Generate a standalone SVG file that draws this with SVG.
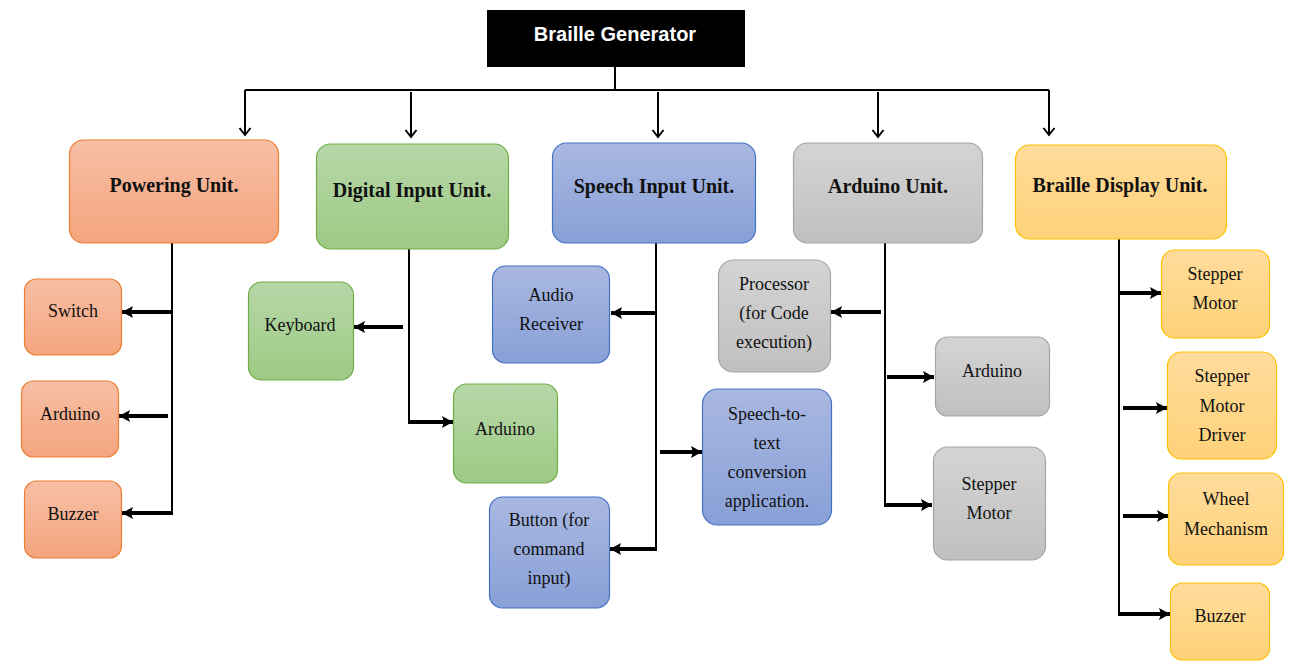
<svg xmlns="http://www.w3.org/2000/svg" width="1301" height="671" viewBox="0 0 1301 671">
<defs>
<linearGradient id="gOr" x1="0" y1="0" x2="0" y2="1"><stop offset="0" stop-color="#F7BFA5"/><stop offset="1" stop-color="#F4A47E"/></linearGradient>
<linearGradient id="gGr" x1="0" y1="0" x2="0" y2="1"><stop offset="0" stop-color="#B6D7A8"/><stop offset="1" stop-color="#9ECA85"/></linearGradient>
<linearGradient id="gBl" x1="0" y1="0" x2="0" y2="1"><stop offset="0" stop-color="#A9B8E1"/><stop offset="1" stop-color="#88A0D7"/></linearGradient>
<linearGradient id="gGy" x1="0" y1="0" x2="0" y2="1"><stop offset="0" stop-color="#D4D4D4"/><stop offset="1" stop-color="#C0C0C0"/></linearGradient>
<linearGradient id="gYe" x1="0" y1="0" x2="0" y2="1"><stop offset="0" stop-color="#FFDC9C"/><stop offset="1" stop-color="#FFD279"/></linearGradient>
<marker id="open" markerUnits="userSpaceOnUse" markerWidth="14" markerHeight="14" refX="10" refY="7" orient="auto">
<path d="M3,1.5 L10,7 L3,12.5" fill="none" stroke="#000" stroke-width="2"/>
</marker>
<marker id="solid" markerUnits="userSpaceOnUse" markerWidth="14" markerHeight="14" refX="11" refY="7" orient="auto">
<path d="M0,1 L11,7 L0,13 L2,7 Z" fill="#000"/>
</marker>
</defs>
<style>
.or{fill:url(#gOr);stroke:#ED7D31;stroke-width:1.2}
.gr{fill:url(#gGr);stroke:#70AD47;stroke-width:1.2}
.bl{fill:url(#gBl);stroke:#4472C4;stroke-width:1.2}
.gy{fill:url(#gGy);stroke:#A5A5A5;stroke-width:1.2}
.ye{fill:url(#gYe);stroke:#FFC000;stroke-width:1.2}
.u{font-family:"Liberation Serif",serif;font-size:20px;font-weight:bold;text-anchor:middle;fill:#111}
.s{font-family:"Liberation Serif",serif;font-size:18px;text-anchor:middle;fill:#111}
.thin{fill:none;stroke:#000;stroke-width:2}
.thick{fill:none;stroke:#000;stroke-width:4;marker-end:url(#solid)}
.trunk{fill:none;stroke:#000;stroke-width:2}
</style>

<g id="title">
<rect x="487" y="10" width="258" height="57" fill="#000"/>
<text x="615" y="41" font-family="Liberation Sans, sans-serif" font-size="20" font-weight="bold" fill="#fff" text-anchor="middle">Braille Generator</text>
</g>

<g id="connectors">
<path class="thin" d="M615,67 V90 M245,90 H1049"/>
<path class="thin" d="M245,90 V135" marker-end="url(#open)"/>
<path class="thin" d="M411,92 V137" marker-end="url(#open)"/>
<path class="thin" d="M658,92 V137" marker-end="url(#open)"/>
<path class="thin" d="M878,92 V137" marker-end="url(#open)"/>
<path class="thin" d="M1049,90 V135" marker-end="url(#open)"/>

<path class="trunk" d="M172,243 V514"/>
<path class="thick" d="M173,312 H122"/>
<path class="thick" d="M168,416 H119"/>
<path class="thick" d="M173,513 H122"/>

<path class="trunk" d="M409,249 V422"/>
<path class="thick" d="M403,327 H354"/>
<path class="thick" d="M408,422 H453"/>

<path class="trunk" d="M656,243 V551"/>
<path class="thick" d="M657,313 H611"/>
<path class="thick" d="M657,549 H610"/>
<path class="thick" d="M660,452 H702"/>

<path class="trunk" d="M885,239 V507"/>
<path class="thick" d="M881,312 H831"/>
<path class="thick" d="M887,377 H934"/>
<path class="thick" d="M884,505 H932"/>

<path class="trunk" d="M1119,239 V616"/>
<path class="thick" d="M1118,293 H1161"/>
<path class="thick" d="M1123,408 H1167"/>
<path class="thick" d="M1123,516 H1168"/>
<path class="thick" d="M1118,614 H1170"/>
</g>

<g id="powering-unit"><rect class="or" x="69.5" y="140" width="209" height="103" rx="14"/><text class="u" x="174" y="192">Powering Unit.</text></g>
<g id="digital-input-unit"><rect class="gr" x="316.5" y="144" width="192" height="105" rx="14"/><text class="u" x="412" y="197">Digital Input Unit.</text></g>
<g id="speech-input-unit"><rect class="bl" x="552.5" y="143" width="203" height="100" rx="14"/><text class="u" x="654" y="193">Speech Input Unit.</text></g>
<g id="arduino-unit"><rect class="gy" x="793.5" y="143" width="189" height="100" rx="14"/><text class="u" x="888" y="193">Arduino Unit.</text></g>
<g id="braille-display-unit"><rect class="ye" x="1015.5" y="145" width="211" height="94" rx="14"/><text class="u" x="1120" y="192">Braille Display Unit.</text></g>

<g id="switch"><rect class="or" x="24.5" y="279" width="97" height="76" rx="12"/><text class="s" x="73" y="317">Switch</text></g>
<g id="arduino-power"><rect class="or" x="21.5" y="381" width="97" height="76" rx="12"/><text class="s" x="70" y="420">Arduino</text></g>
<g id="buzzer-power"><rect class="or" x="24.5" y="481" width="97" height="77" rx="12"/><text class="s" x="73" y="520">Buzzer</text></g>

<g id="keyboard"><rect class="gr" x="248.5" y="282" width="105" height="98" rx="13"/><text class="s" x="300" y="331">Keyboard</text></g>
<g id="arduino-digital"><rect class="gr" x="453.5" y="384" width="104" height="99" rx="13"/><text class="s" x="505" y="435">Arduino</text></g>

<g id="audio-receiver"><rect class="bl" x="492.5" y="266" width="117" height="97" rx="13"/><text class="s" x="551" y="301">Audio</text><text class="s" x="551" y="330">Receiver</text></g>
<g id="button"><rect class="bl" x="489.5" y="497" width="120" height="111" rx="13"/><text class="s" x="549" y="526">Button (for</text><text class="s" x="549" y="555">command</text><text class="s" x="549" y="584">input)</text></g>
<g id="speech-to-text"><rect class="bl" x="702.5" y="389" width="129" height="136" rx="15"/><text class="s" x="767" y="420">Speech-to-</text><text class="s" x="767" y="449">text</text><text class="s" x="767" y="478">conversion</text><text class="s" x="767" y="507">application.</text></g>

<g id="processor"><rect class="gy" x="718.5" y="260" width="112" height="112" rx="15"/><text class="s" x="774" y="290">Processor</text><text class="s" x="774" y="319">(for Code</text><text class="s" x="774" y="348">execution)</text></g>
<g id="arduino-ard"><rect class="gy" x="935.5" y="337" width="114" height="79" rx="12"/><text class="s" x="992" y="377">Arduino</text></g>
<g id="stepper-motor-ard"><rect class="gy" x="933.5" y="447" width="112" height="113" rx="14"/><text class="s" x="989" y="490">Stepper</text><text class="s" x="989" y="519">Motor</text></g>

<g id="stepper-motor-bd"><rect class="ye" x="1161.5" y="250" width="108" height="88" rx="13"/><text class="s" x="1215" y="280">Stepper</text><text class="s" x="1215" y="309">Motor</text></g>
<g id="stepper-driver"><rect class="ye" x="1167.5" y="352" width="109" height="107" rx="14"/><text class="s" x="1222" y="382">Stepper</text><text class="s" x="1222" y="412">Motor</text><text class="s" x="1222" y="441">Driver</text></g>
<g id="wheel-mechanism"><rect class="ye" x="1168.5" y="473" width="115" height="92" rx="13"/><text class="s" x="1226" y="505">Wheel</text><text class="s" x="1226" y="535">Mechanism</text></g>
<g id="buzzer-bd"><rect class="ye" x="1170.5" y="583" width="99" height="77" rx="12"/><text class="s" x="1220" y="622">Buzzer</text></g>
</svg>
